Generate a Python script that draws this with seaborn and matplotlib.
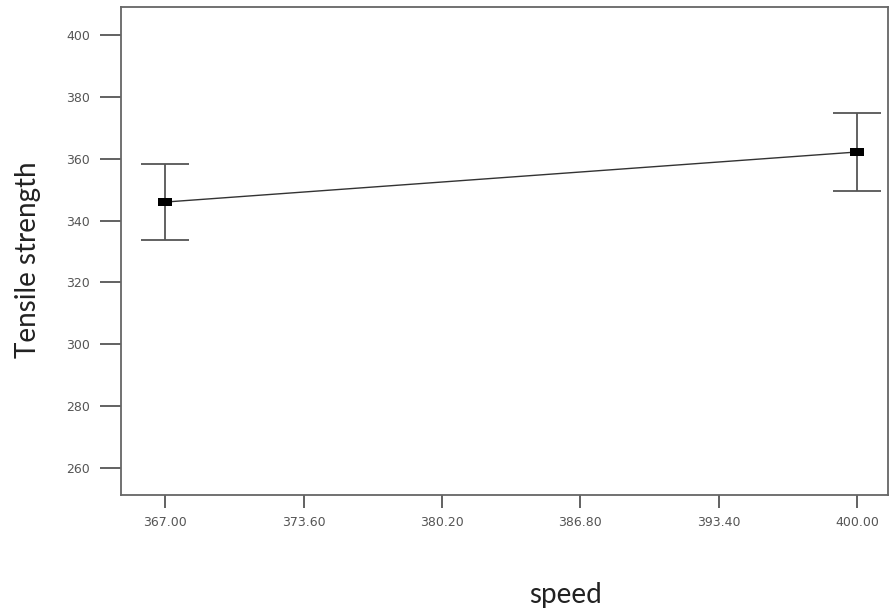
import matplotlib
matplotlib.use("Agg")
import matplotlib.pyplot as plt
import seaborn as sns
import pandas as pd

speed = [367.0, 400.0]
strength = [346.0, 362.2]
err = [12.4, 12.5]
xticks = [367.00, 373.60, 380.20, 386.80, 393.40, 400.00]
yticks = [260, 280, 300, 320, 340, 360, 380, 400]

sns.set_style("white")
plt.rcParams['font.family'] = ['DejaVu Sans']

df = pd.DataFrame({"speed": speed, "Tensile strength": strength})

fig = plt.figure(figsize=(8.9, 6.09), dpi=100)
ax = fig.add_axes([0.136, 0.187, 0.862, 0.801])

ax.errorbar(speed, strength, yerr=err, fmt='none', ecolor='#555555',
            elinewidth=1.3, capsize=17, capthick=1.3, zorder=2)
sns.lineplot(data=df, x="speed", y="Tensile strength", ax=ax, color='#333333',
             linewidth=1.0, zorder=3)
rect = [(-1.6, -1), (1.6, -1), (1.6, 1), (-1.6, 1), (-1.6, -1)]
ax.scatter(speed, strength, marker=rect, s=95, color='black', zorder=4, linewidths=0)

ax.set_xlim(364.9, 401.48)
ax.set_ylim(251.2, 409)
ax.set_xticks(xticks)
ax.set_xticklabels([f"{v:.2f}" for v in xticks])
ax.set_yticks(yticks)
ax.set_yticklabels([str(v) for v in yticks])

for s in ax.spines.values():
    s.set_color('#666666')
    s.set_linewidth(1.3)

ax.tick_params(axis='y', direction='out', length=15, width=1.3, color='#555555',
               labelsize=9, labelcolor='#555555', pad=7.5, left=True)
ax.tick_params(axis='x', direction='out', length=9, width=1.3, color='#555555',
               labelsize=9, labelcolor='#555555', pad=6, bottom=True)

ax.set_xlabel("speed", fontsize=20, color='#222222', family=['Lato', 'DejaVu Sans'])
ax.set_ylabel("Tensile strength", fontsize=20, color='#222222', family=['Lato', 'DejaVu Sans'])
ax.xaxis.set_label_coords(0.579, -0.205)
ax.xaxis.label.set_va('center')
ax.yaxis.set_label_coords(-0.121, 0.482)
ax.yaxis.label.set_va('center')

fig.savefig("out.png", dpi=100)
